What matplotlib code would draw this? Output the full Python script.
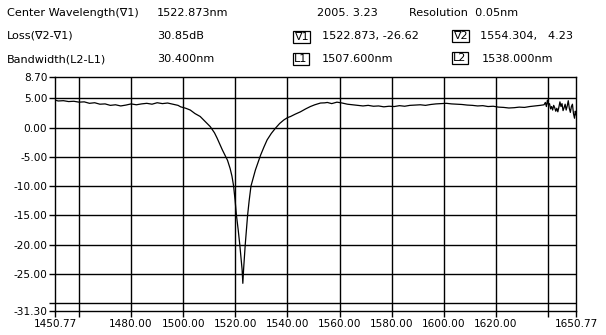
import matplotlib
matplotlib.use("Agg")
import matplotlib.pyplot as plt

plt.rcParams["font.family"] = ["DejaVu Sans"]
plt.rcParams["axes.unicode_minus"] = False

# ---------------- data ----------------
wavelength = [
    1450.77, 1452, 1454, 1456, 1458, 1460, 1462, 1464, 1466, 1468, 1470, 1472, 1474,
    1476, 1478, 1480, 1482, 1484, 1486, 1488, 1490, 1492, 1494, 1496, 1498,
    1499, 1501, 1502.7, 1504.5, 1506.5, 1508.5, 1510.4, 1512, 1513, 1514, 1515,
    1516, 1517, 1518, 1518.7, 1519.3, 1519.9, 1520.4, 1521.1, 1521.7, 1522.2,
    1522.6, 1522.873, 1523.0, 1523.2, 1523.8, 1524.7, 1525.3, 1526.0, 1527.7,
    1529.7, 1531, 1532.2, 1533.8, 1535.4, 1537, 1538.6, 1540, 1541.2, 1543, 1545,
    1547, 1548.8, 1550.5, 1552.7, 1554.3, 1555.3,
    1557, 1559, 1561, 1563, 1565, 1567, 1569, 1571, 1573, 1575, 1577, 1579, 1581,
    1583, 1585, 1587, 1589, 1591, 1593, 1595, 1597, 1599, 1601, 1603, 1605, 1607,
    1609, 1611, 1613, 1615, 1617, 1619, 1621, 1623, 1625, 1627, 1629, 1631, 1633,
    1635, 1637, 1638.5,
    1639.0, 1639.4, 1639.8, 1640.2, 1640.6, 1641.0, 1641.4, 1641.8, 1642.2, 1642.6,
    1643.0, 1643.4, 1643.8, 1644.2, 1644.6, 1645.0, 1645.4, 1645.8, 1646.2, 1646.6,
    1647.0, 1647.4, 1647.8, 1648.2, 1648.6, 1649.0, 1649.4, 1649.8, 1650.2, 1650.5,
    1650.77,
]
power = [
    4.70, 4.55, 4.60, 4.45, 4.50, 4.35, 4.40, 4.15, 4.25, 4.00, 4.05, 3.80, 3.90,
    3.70, 3.85, 4.05, 3.90, 4.05, 4.15, 4.00, 4.25, 4.10, 4.20, 4.00, 3.80,
    3.55, 3.30, 3.00, 2.40, 1.90, 1.00, 0.15, -0.90, -1.80, -2.80, -3.80,
    -4.70, -5.60, -7.00, -8.30, -9.90, -12.40, -14.90, -17.50, -20.00, -22.50,
    -24.30, -26.62, -25.50, -24.00, -20.00, -15.00, -12.50, -10.00, -7.25,
    -4.70, -3.30, -2.10, -1.00, -0.10, 0.70, 1.30, 1.70, 1.90, 2.30, 2.70,
    3.20, 3.60, 3.90, 4.20, 4.23, 4.30,
    4.10, 4.35, 4.20, 4.00, 3.90, 3.80, 3.70, 3.80, 3.65, 3.70, 3.55, 3.65, 3.60,
    3.75, 3.65, 3.80, 3.85, 3.90, 3.80, 3.95, 4.05, 4.10, 4.15, 4.05, 4.00, 3.95,
    3.85, 3.80, 3.70, 3.75, 3.60, 3.65, 3.50, 3.45, 3.35, 3.40, 3.50, 3.45, 3.60,
    3.70, 3.80, 3.90,
    4.30, 3.60, 4.70, 3.90, 4.10, 3.20, 3.60, 3.00, 3.80, 3.40,
    2.80, 3.30, 2.70, 3.50, 4.40, 3.60, 4.10, 2.90, 3.40, 4.00,
    3.00, 3.70, 4.60, 3.30, 2.60, 3.60, 4.00, 2.40, 1.60, 2.80,
    2.20,
]

x_ticks = [1450.77, 1460, 1480, 1500, 1520, 1540, 1560, 1580, 1600, 1620, 1640, 1650.77]
x_tick_labels = ["1450.77", "", "1480.00", "1500.00", "1520.00", "1540.00",
                 "1560.00", "1580.00", "1600.00", "1620.00", "", "1650.77"]
x_grid = [1460, 1480, 1500, 1520, 1540, 1560, 1580, 1600, 1620, 1640]

y_ticks = [8.70, 5, 0, -5, -10, -15, -20, -25, -30, -31.30]
y_tick_labels = ["8.70", "5.00", "0.00", "-5.00", "-10.00", "-15.00", "-20.00",
                 "-25.00", "", "-31.30"]
y_grid = [5, 0, -5, -10, -15, -20, -25, -30]

x_range = [1450.77, 1650.77]
y_range = [-31.30, 8.70]

header_labels = ["Center Wavelength(\u22071)", "Loss(\u22072-\u22071)", "Bandwidth(L2-L1)"]
header_values = ["1522.873nm", "30.85dB", "30.400nm"]
date_text = "2005. 3.23"
resolution_text = "Resolution  0.05nm"
marker_boxes = ["\u22071", "\u22072", "L1", "L2"]
marker_values = ["1522.873, -26.62", "1554.304,   4.23", "1507.600nm", "1538.000nm"]

# ---------------- figure ----------------
W, H = 606, 335
fig = plt.figure(figsize=(W / 100, H / 100), dpi=100, facecolor="white")
ax = fig.add_axes([55 / W, 1 - 310.7 / H, (576 - 55) / W, (310.7 - 76.7) / H])
ax.set_facecolor("white")

for g in x_grid:
    ax.axvline(g, color="black", lw=1.0, zorder=1)
for g in y_grid:
    ax.axhline(g, color="black", lw=1.0, zorder=1)

ax.plot(wavelength, power, color="black", lw=0.9, zorder=3)

ax.set_xlim(*x_range)
ax.set_ylim(*y_range)
ax.set_xticks(x_ticks)
ax.set_xticklabels(x_tick_labels)
ax.set_yticks(y_ticks)
ax.set_yticklabels(y_tick_labels)
ax.tick_params(axis="both", direction="out", length=4, width=1.0, color="black",
               labelsize=7.6, labelcolor="black")
ax.tick_params(axis="x", pad=2)
ax.tick_params(axis="y", pad=1.5)
for s in ax.spines.values():
    s.set_color("black")
    s.set_linewidth(1.0)


def ftext(x, y, s, **kw):
    fig.text(x / W, 1 - y / H, s, va="center", ha="left", fontsize=8.1, color="black", **kw)


rows_y = [13, 36, 59]
for i in range(3):
    ftext(7, rows_y[i], header_labels[i])
    ftext(157, rows_y[i], header_values[i])

ftext(317, 13, date_text)
ftext(409, 13, resolution_text)

box_kw = dict(boxstyle="square,pad=0.12", fc="white", ec="black", lw=0.9)
box_pos = [(294, 37), (453, 36), (294, 59), (453, 58)]
val_pos = [(322, 36), (480, 36), (322, 59), (482, 59)]
for i in range(4):
    ftext(box_pos[i][0], box_pos[i][1], marker_boxes[i], bbox=box_kw)
    ftext(val_pos[i][0], val_pos[i][1], marker_values[i])

fig.savefig("out.png", dpi=100, facecolor="white")
